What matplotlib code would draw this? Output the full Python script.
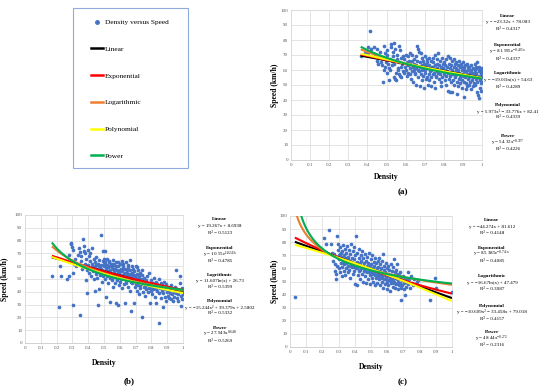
import matplotlib
matplotlib.use("Agg")
import matplotlib.pyplot as plt
import numpy as np
from matplotlib.lines import Line2D
from matplotlib.patches import Rectangle

# ---- scatter data: (density, speed km/h) ----
points_a = [
    (0.368, 69), (0.372, 70), (0.385, 71), (0.392, 72), (0.401, 75), (0.405, 71), (0.412, 86), (0.421, 74),
    (0.436, 75), (0.441, 69), (0.448, 74), (0.452, 66), (0.456, 64), (0.465, 72), (0.471, 65), (0.474, 63),
    (0.482, 52), (0.485, 60), (0.488, 76), (0.492, 71), (0.494, 62), (0.497, 65), (0.502, 70), (0.505, 58),
    (0.508, 64), (0.503, 73), (0.513, 53), (0.516, 67), (0.511, 61), (0.522, 77), (0.524, 75), (0.518, 60),
    (0.527, 66), (0.532, 72), (0.535, 69), (0.529, 63), (0.538, 55), (0.541, 78), (0.544, 74), (0.539, 64),
    (0.546, 54), (0.548, 58), (0.553, 70), (0.556, 67), (0.551, 53), (0.558, 61), (0.563, 76), (0.566, 65),
    (0.561, 60), (0.568, 57), (0.572, 73), (0.575, 68), (0.571, 56), (0.578, 62), (0.574, 55), (0.583, 64),
    (0.586, 69), (0.588, 59), (0.594, 67), (0.596, 62), (0.592, 58), (0.603, 70), (0.606, 65), (0.601, 60),
    (0.608, 56), (0.612, 69), (0.615, 63), (0.611, 58), (0.617, 66), (0.622, 71), (0.624, 61), (0.621, 57),
    (0.627, 54), (0.625, 64), (0.632, 70), (0.636, 66), (0.634, 59), (0.638, 62), (0.642, 67), (0.645, 60),
    (0.641, 52), (0.647, 57), (0.644, 64), (0.652, 69), (0.655, 63), (0.651, 58), (0.657, 50), (0.654, 61),
    (0.662, 76), (0.664, 74), (0.661, 66), (0.667, 60), (0.665, 55), (0.672, 72), (0.675, 65), (0.671, 59),
    (0.677, 49), (0.674, 62), (0.682, 71), (0.685, 68), (0.681, 57), (0.687, 53), (0.684, 63), (0.688, 60),
    (0.692, 66), (0.695, 61), (0.691, 56), (0.697, 48), (0.694, 64), (0.702, 69), (0.705, 63), (0.701, 58),
    (0.707, 54), (0.704, 60), (0.712, 67), (0.715, 61), (0.711, 55), (0.717, 50), (0.714, 65), (0.722, 68),
    (0.725, 63), (0.721, 57), (0.727, 59), (0.724, 53), (0.732, 66), (0.735, 60), (0.731, 55), (0.737, 62),
    (0.734, 49), (0.742, 65), (0.745, 62), (0.741, 57), (0.747, 52), (0.744, 68), (0.752, 70), (0.755, 63),
    (0.751, 58), (0.757, 55), (0.754, 48), (0.762, 67), (0.765, 61), (0.761, 56), (0.767, 59), (0.764, 64),
    (0.772, 71), (0.775, 63), (0.771, 58), (0.777, 54), (0.774, 60), (0.782, 66), (0.785, 62), (0.781, 57),
    (0.787, 52), (0.784, 49), (0.792, 68), (0.795, 61), (0.791, 55), (0.797, 59), (0.794, 64), (0.802, 65),
    (0.805, 63), (0.801, 57), (0.807, 53), (0.804, 60), (0.812, 67), (0.815, 62), (0.811, 56), (0.817, 59),
    (0.814, 50), (0.822, 69), (0.825, 64), (0.821, 58), (0.827, 54), (0.824, 46), (0.832, 68), (0.835, 61),
    (0.831, 56), (0.837, 52), (0.834, 45), (0.838, 63), (0.842, 66), (0.845, 60), (0.841, 57), (0.847, 53),
    (0.844, 45), (0.852, 67), (0.855, 62), (0.851, 58), (0.857, 55), (0.854, 50), (0.858, 64), (0.862, 65),
    (0.865, 61), (0.861, 56), (0.867, 52), (0.864, 59), (0.868, 44), (0.872, 63), (0.875, 60), (0.871, 57),
    (0.877, 54), (0.874, 49), (0.882, 66), (0.885, 62), (0.881, 58), (0.887, 55), (0.884, 51), (0.892, 64),
    (0.895, 60), (0.891, 57), (0.897, 53), (0.894, 48), (0.898, 62), (0.902, 65), (0.905, 61), (0.901, 56),
    (0.907, 52), (0.904, 42), (0.908, 59), (0.912, 63), (0.915, 59), (0.911, 55), (0.917, 51), (0.914, 47),
    (0.922, 64), (0.925, 60), (0.921, 57), (0.927, 54), (0.924, 49), (0.928, 62), (0.932, 62), (0.935, 58),
    (0.931, 55), (0.937, 52), (0.934, 50), (0.942, 63), (0.945, 60), (0.941, 56), (0.947, 53), (0.944, 47),
    (0.948, 58), (0.952, 61), (0.955, 58), (0.951, 55), (0.957, 51), (0.954, 49), (0.962, 64), (0.965, 60),
    (0.961, 57), (0.967, 54), (0.964, 50), (0.968, 62), (0.972, 65), (0.975, 61), (0.971, 58), (0.977, 55),
    (0.974, 52), (0.978, 43), (0.973, 45), (0.982, 62), (0.985, 59), (0.981, 56), (0.987, 53), (0.984, 41),
    (0.988, 48), (0.992, 60), (0.995, 57), (0.991, 54), (0.997, 51), (0.994, 58), (1.0, 61), (0.999, 59),
    (0.998, 55), (1.0, 52), (0.996, 46),
]

points_b = [
    (0.172, 52), (0.215, 28), (0.222, 60), (0.228, 52), (0.268, 50), (0.276, 52), (0.281, 69), (0.288, 78),
    (0.293, 77), (0.297, 75), (0.301, 73), (0.302, 30), (0.306, 55), (0.312, 62), (0.318, 66), (0.325, 60),
    (0.335, 69), (0.341, 74), (0.345, 22), (0.347, 71), (0.352, 64), (0.356, 68), (0.362, 58), (0.368, 81),
    (0.371, 72), (0.374, 76), (0.378, 62), (0.382, 70), (0.385, 66), (0.388, 49), (0.392, 39), (0.394, 57),
    (0.397, 73), (0.401, 61), (0.404, 68), (0.407, 55), (0.411, 64), (0.414, 70), (0.417, 52), (0.421, 59),
    (0.424, 74), (0.426, 62), (0.431, 56), (0.434, 66), (0.437, 50), (0.441, 60), (0.443, 41), (0.446, 63),
    (0.449, 54), (0.452, 67), (0.455, 58), (0.458, 51), (0.461, 30), (0.463, 62), (0.466, 56), (0.469, 65),
    (0.471, 42), (0.474, 59), (0.477, 53), (0.479, 84), (0.482, 61), (0.485, 48), (0.488, 57), (0.491, 64),
    (0.494, 72), (0.496, 52), (0.499, 60), (0.502, 55), (0.505, 63), (0.507, 72), (0.509, 50), (0.512, 58),
    (0.514, 36), (0.516, 61), (0.519, 53), (0.522, 66), (0.525, 56), (0.527, 47), (0.531, 60), (0.534, 63),
    (0.536, 51), (0.538, 32), (0.541, 57), (0.544, 54), (0.547, 62), (0.549, 49), (0.552, 59), (0.555, 65),
    (0.557, 44), (0.561, 56), (0.564, 52), (0.566, 61), (0.569, 47), (0.572, 58), (0.575, 54), (0.577, 63),
    (0.579, 31), (0.582, 50), (0.585, 57), (0.587, 60), (0.589, 30), (0.592, 45), (0.595, 55), (0.598, 52),
    (0.601, 62), (0.603, 48), (0.606, 58), (0.609, 53), (0.611, 64), (0.614, 43), (0.617, 56), (0.619, 51),
    (0.622, 60), (0.625, 46), (0.628, 54), (0.631, 31), (0.633, 58), (0.636, 50), (0.639, 63), (0.642, 47),
    (0.645, 55), (0.647, 52), (0.651, 59), (0.654, 44), (0.657, 53), (0.659, 49), (0.662, 57), (0.665, 65),
    (0.667, 41), (0.671, 25), (0.673, 51), (0.676, 55), (0.679, 47), (0.682, 58), (0.684, 53), (0.687, 31),
    (0.689, 49), (0.692, 56), (0.695, 44), (0.698, 52), (0.701, 60), (0.703, 47), (0.706, 54), (0.709, 41),
    (0.711, 50), (0.714, 57), (0.717, 45), (0.719, 38), (0.722, 52), (0.725, 48), (0.728, 55), (0.731, 43),
    (0.734, 50), (0.737, 46), (0.741, 20), (0.743, 53), (0.746, 40), (0.749, 48), (0.752, 44), (0.755, 51),
    (0.758, 37), (0.761, 46), (0.764, 42), (0.767, 49), (0.771, 45), (0.774, 52), (0.777, 40), (0.781, 47),
    (0.784, 43), (0.787, 55), (0.789, 31), (0.792, 46), (0.795, 41), (0.798, 49), (0.802, 44), (0.805, 38),
    (0.808, 47), (0.812, 42), (0.815, 51), (0.818, 45), (0.821, 36), (0.825, 43), (0.828, 48), (0.832, 31),
    (0.835, 41), (0.838, 46), (0.842, 44), (0.845, 39), (0.848, 50), (0.851, 16), (0.854, 43), (0.858, 47),
    (0.861, 35), (0.865, 41), (0.868, 45), (0.872, 28), (0.875, 39), (0.878, 48), (0.882, 43), (0.885, 36),
    (0.888, 42), (0.892, 46), (0.895, 33), (0.898, 40), (0.902, 44), (0.905, 37), (0.909, 41), (0.912, 35),
    (0.916, 43), (0.919, 39), (0.923, 34), (0.926, 45), (0.931, 38), (0.934, 42), (0.938, 33), (0.941, 40),
    (0.945, 36), (0.949, 44), (0.953, 57), (0.956, 39), (0.959, 35), (0.963, 42), (0.967, 38), (0.971, 33),
    (0.975, 41), (0.978, 47), (0.982, 52), (0.985, 29), (0.988, 37), (0.991, 43), (0.994, 34), (0.998, 41),
    (1.0, 38), (0.999, 40),
    (0.452, 61), (0.468, 60), (0.483, 58), (0.497, 62), (0.513, 60), (0.528, 59), (0.543, 61), (0.558, 58),
    (0.573, 60), (0.588, 56), (0.604, 57), (0.618, 58), (0.634, 55), (0.648, 57), (0.663, 54), (0.678, 52),
    (0.693, 53), (0.708, 51), (0.723, 50), (0.738, 49), (0.753, 48), (0.768, 47), (0.783, 46), (0.798, 45),
    (0.46, 56), (0.49, 54), (0.52, 52), (0.55, 50), (0.58, 49), (0.61, 50), (0.64, 49), (0.67, 48),
    (0.70, 46), (0.73, 45), (0.76, 44), (0.79, 43), (0.83, 42), (0.50, 66), (0.53, 64), (0.56, 62),
    (0.59, 63), (0.62, 62), (0.65, 61), (0.68, 60), (0.71, 59), (0.74, 57),
]

points_c = [
    (0.032, 38), (0.208, 83), (0.222, 79), (0.238, 89), (0.252, 79), (0.262, 72), (0.268, 66), (0.273, 71),
    (0.276, 63), (0.279, 58), (0.282, 56), (0.285, 52), (0.288, 69), (0.291, 85), (0.293, 62), (0.296, 74),
    (0.298, 79), (0.301, 67), (0.303, 60), (0.306, 71), (0.308, 57), (0.311, 76), (0.313, 64), (0.316, 69),
    (0.318, 54), (0.321, 73), (0.323, 61), (0.326, 78), (0.328, 66), (0.331, 58), (0.333, 70), (0.336, 63),
    (0.338, 75), (0.341, 55), (0.343, 68), (0.346, 60), (0.348, 72), (0.351, 65), (0.353, 77), (0.356, 57),
    (0.358, 69), (0.361, 62), (0.363, 74), (0.366, 59), (0.368, 66), (0.371, 71), (0.373, 53), (0.376, 64),
    (0.378, 79), (0.381, 61), (0.383, 68), (0.386, 56), (0.388, 73), (0.391, 63), (0.393, 76), (0.396, 58),
    (0.398, 67), (0.401, 48), (0.403, 70), (0.406, 60), (0.408, 85), (0.411, 65), (0.413, 47), (0.416, 72),
    (0.418, 62), (0.421, 55), (0.423, 68), (0.426, 58), (0.428, 75), (0.431, 64), (0.433, 52), (0.436, 70),
    (0.438, 60), (0.441, 66), (0.443, 56), (0.446, 73), (0.448, 62), (0.451, 50), (0.453, 68), (0.456, 58),
    (0.458, 64), (0.461, 54), (0.463, 71), (0.466, 60), (0.468, 66), (0.471, 49), (0.473, 62), (0.476, 57),
    (0.478, 69), (0.481, 52), (0.483, 64), (0.486, 59), (0.488, 72), (0.491, 55), (0.493, 62), (0.496, 48),
    (0.498, 67), (0.501, 58), (0.503, 63), (0.506, 53), (0.508, 70), (0.511, 60), (0.513, 50), (0.516, 65),
    (0.518, 56), (0.521, 62), (0.523, 47), (0.526, 68), (0.528, 58), (0.531, 53), (0.533, 64), (0.536, 60),
    (0.538, 49), (0.541, 66), (0.543, 56), (0.546, 61), (0.548, 52), (0.551, 68), (0.553, 58), (0.556, 47),
    (0.558, 63), (0.561, 54), (0.563, 60), (0.566, 50), (0.568, 66), (0.571, 56), (0.573, 45), (0.576, 71),
    (0.578, 59), (0.581, 52), (0.583, 62), (0.586, 48), (0.588, 57), (0.591, 64), (0.593, 53), (0.596, 44),
    (0.598, 60), (0.601, 50), (0.603, 56), (0.606, 62), (0.608, 47), (0.611, 54), (0.613, 59), (0.616, 51),
    (0.618, 43), (0.621, 63), (0.623, 55), (0.626, 49), (0.628, 58), (0.631, 52), (0.633, 46), (0.636, 61),
    (0.638, 54), (0.641, 50), (0.643, 67), (0.646, 57), (0.648, 45), (0.651, 53), (0.653, 59), (0.656, 48),
    (0.658, 63), (0.661, 52), (0.663, 56), (0.666, 44), (0.668, 50), (0.671, 55), (0.673, 47), (0.676, 53),
    (0.678, 57), (0.681, 49), (0.683, 45), (0.686, 52), (0.688, 36), (0.691, 51), (0.694, 47), (0.697, 54),
    (0.701, 49), (0.705, 44), (0.708, 53), (0.712, 40), (0.715, 50), (0.718, 46), (0.722, 51), (0.726, 57),
    (0.731, 48), (0.735, 52), (0.741, 45), (0.746, 54), (0.752, 49), (0.758, 47), (0.765, 52), (0.772, 48),
    (0.781, 50), (0.792, 51), (0.862, 36), (0.892, 53), (0.903, 45), (1.0, 42),
    (0.305, 70), (0.315, 72), (0.325, 68), (0.335, 66), (0.345, 64), (0.355, 67), (0.365, 65), (0.375, 62),
    (0.385, 64), (0.395, 61), (0.405, 63), (0.415, 60), (0.425, 62), (0.435, 59), (0.445, 61), (0.455, 60),
    (0.465, 58), (0.475, 60), (0.485, 57), (0.495, 59), (0.505, 56), (0.515, 58), (0.525, 55), (0.535, 57),
    (0.545, 54), (0.555, 56), (0.565, 53), (0.575, 55), (0.585, 52), (0.595, 54), (0.605, 51), (0.615, 53),
    (0.625, 50), (0.635, 52), (0.645, 49),
]

# ---- trendline coefficients (a, c from printed equations; b) ----
# linear (m, b), exponential (a, k), log (a, b), poly (a2, a1, a0), power (a, p)
trend_a = [(-23.32, 78.083), (81.595, -0.405), (-19.01, 54.63), (5.973, -33.776, 82.41), (54.32, -0.327)]
trend_b = [(-33.0, 72.5), (75.5, -0.6), (-19.5, 41.0), (12.0, -48.0, 75.0), (41.5, -0.36)]
trend_c = [(-44.274, 81.612), (85.385, -0.741), (-16.67, 47.479), (-10.609, -33.458, 79.018), (48.44, -0.272)]
xstart = [0.365, 0.17, 0.03]

fit_names = ["Linear", "Exponential", "Logarithmic", "Polynomial", "Power"]
fit_colors = ["#000000", "#ff0000", "#ed7d31", "#ffff00", "#00b050"]

eq_a = [
    ("Linear", "y = −23.32x + 78.083", "0.4317"),
    ("Exponential", "y = 81.595e$^{-0.405x}$", "0.4337"),
    ("Logarithmic", "y = −19.01ln(x) + 54.63", "0.4289"),
    ("Polynomial", "y = 5.973x² − 33.776x + 82.41", "0.4339"),
    ("Power", "y = 54.32x$^{-0.327}$", "0.4226"),
]
eq_b = [
    ("Linear", "y = 19.267x + 8.6938", "0.5123"),
    ("Exponential", "y = 10.55e$^{1.0243x}$", "0.4785"),
    ("Logrithmic", "y = 11.607ln(x) + 26.73", "0.5399"),
    ("Polynomial", "y = −15.244x² + 39.379x + 2.5802", "0.5332"),
    ("Power", "y = 27.943x$^{0.648}$", "0.5269"),
]
eq_c = [
    ("Linear", "y = −44.274x + 81.612", "0.4148"),
    ("Exponential", "y = 85.385e$^{-0.741x}$", "0.4085"),
    ("Logarithmic", "y = −16.67ln(x) + 47.479", "0.3087"),
    ("Polynomial", "y = −10.609x² − 33.458x + 79.018", "0.4157"),
    ("Power", "y = 48.44x$^{-0.272}$", "0.2316"),
]

plt.rcParams["font.family"] = ["Liberation Serif", "DejaVu Serif"]
plt.rcParams["mathtext.fontset"] = "custom"
plt.rcParams["mathtext.rm"] = "Liberation Serif"
plt.rcParams["mathtext.default"] = "regular"

W, H = 550, 391
fig = plt.figure(figsize=(5.5, 3.91), dpi=100)


def fx(px):
    return px / W


def fy(py):
    return 1 - py / H


def curves(coef, x):
    lin, ex, lg, poly, pw = coef
    return [lin[0] * x + lin[1],
            ex[0] * np.exp(ex[1] * x),
            lg[0] * np.log(x) + lg[1],
            np.polyval(poly, x),
            pw[0] * x ** pw[1]]


def panel(box, pts, coef, x0, ylab_x, xlab_y):
    l, t, r, b = box
    ax = fig.add_axes([fx(l), fy(b), fx(r) - fx(l), fy(t) - fy(b)])
    d = np.array(pts)
    ax.scatter(d[:, 0], d[:, 1], s=7, color="#4472c4", linewidths=0, zorder=3)
    xs = np.linspace(x0, 1, 300)
    for yv, c in zip(curves(coef, xs), fit_colors):
        ax.plot(xs, yv, color=c, lw=1.5, zorder=4, solid_capstyle="butt")
    ax.set_xlim(0, 1)
    ax.set_ylim(0, 100)
    ax.set_xticks(np.arange(0, 1.01, 0.1))
    ax.set_xticklabels(["0", "0.1", "0.2", "0.3", "0.4", "0.5", "0.6", "0.7", "0.8", "0.9", "1"])
    ax.set_yticks(np.arange(0, 101, 10))
    ax.grid(True, color="#d9d9d9", lw=0.5)
    ax.set_axisbelow(True)
    for s in ax.spines.values():
        s.set_color("#d9d9d9")
        s.set_linewidth(0.5)
    ax.spines["bottom"].set_color("#bfbfbf")
    ax.tick_params(length=0, labelsize=3.6, pad=2, colors="#595959")
    ax.set_xlabel("Density", fontsize=5.5, fontweight="bold")
    ax.set_ylabel("Speed (km/h)", fontsize=5.5, fontweight="bold")
    ax.yaxis.set_label_coords(ylab_x, 0.5)
    ax.xaxis.set_label_coords(0.5, xlab_y)
    return ax


panel((291, 10, 482, 160), points_a, trend_a, xstart[0], -0.065, -0.09)
panel((25, 215, 183, 343), points_b, trend_b, xstart[1], -0.10, -0.125)
panel((290, 216, 452, 347), points_c, trend_c, xstart[2], -0.07, -0.12)


def equations(eqs, xc, rows):
    for (name, eq, r2), (y0, y1, y2) in zip(eqs, rows):
        fig.text(fx(xc), fy(y0), name, ha="center", va="center", fontsize=3.8, fontweight="bold")
        fig.text(fx(xc), fy(y1), eq, ha="center", va="center", fontsize=3.6)
        fig.text(fx(xc), fy(y2), "R² = " + r2, ha="center", va="center", fontsize=3.6)


equations(eq_a, 508, [(16, 22, 29), (45, 52, 59), (73, 80, 87), (105, 111, 117), (136, 143, 149)])
equations(eq_b, 220, [(219, 226, 233), (248, 255, 261), (275, 281, 287), (301, 307, 313), (328, 334, 341)])
equations(eq_c, 492, [(220, 227, 233), (248, 254, 261), (276, 283, 289), (306, 312, 319), (332, 339, 345)])

# panel captions
fig.text(fx(403), fy(192), "(a)", ha="center", va="center", fontsize=6.5, fontweight="bold")
fig.text(fx(129), fy(381), "(b)", ha="center", va="center", fontsize=6.5, fontweight="bold")
fig.text(fx(403), fy(382), "(c)", ha="center", va="center", fontsize=6.5, fontweight="bold")

# legend box
fig.patches.append(Rectangle((fx(73), fy(168)), fx(188) - fx(73), fy(8) - fy(168),
                             transform=fig.transFigure, fill=False, edgecolor="#8faadc", lw=0.8))
handles = [Line2D([], [], ls="none", marker="o", ms=2.5, color="#4472c4")]
handles += [Line2D([], [], color=c, lw=1.8) for c in fit_colors]
fig.legend(handles, ["Density versus Speed"] + fit_names, loc="upper left",
           bbox_to_anchor=(fx(88), fy(16)), frameon=False, fontsize=5.3,
           handlelength=1.6, handletextpad=0.3, labelspacing=2.8, borderaxespad=0)

fig.savefig("out.png", dpi=100)
